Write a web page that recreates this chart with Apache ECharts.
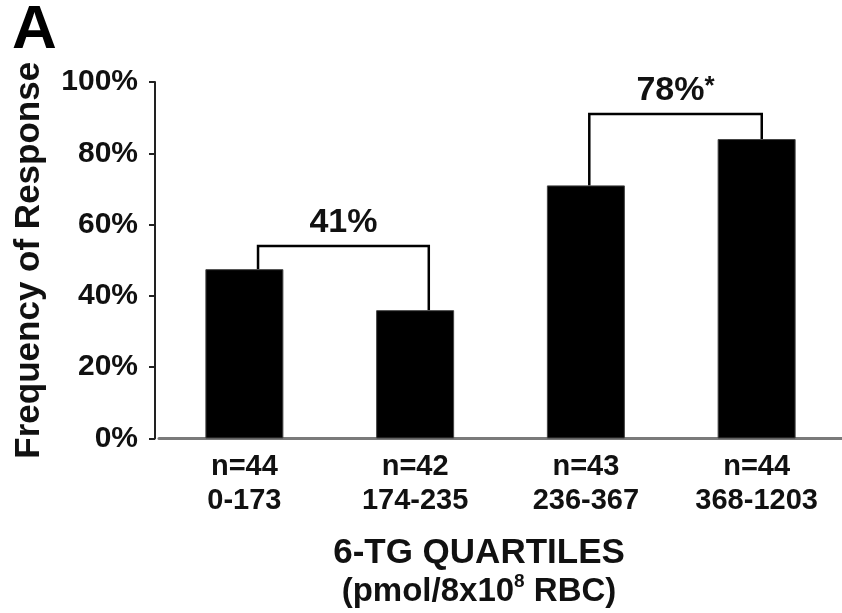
<!DOCTYPE html>
<html>
<head>
<meta charset="utf-8">
<title>6-TG quartiles and frequency of response</title>
<script src="https://cdn.jsdelivr.net/npm/echarts@6/dist/echarts.min.js"></script>
<style>
  html, body { margin: 0; padding: 0; background: #ffffff; }
  #chart { width: 842px; height: 613px; }
</style>
</head>
<body>
<div id="chart"></div>
<script>
// Quartile groups of 6-TG concentration
var sampleSizes = ['n=44', 'n=42', 'n=43', 'n=44'];
var quartileRanges = ['0-173', '174-235', '236-367', '368-1203'];

// Frequency of response (%) per quartile
var responseRates = [47.5, 36, 71, 84];

// Y axis ticks
var yTicks = [0, 20, 40, 60, 80, 100];

// Brackets joining pairs of quartiles:
// [left position, right position, left foot (%), right foot (%), top (%)]
var bracketSpans = [
  [0.08, 1.08, 47.5, 36, 54],
  [2.02, 3.03, 71, 84, 91]
];
var bracketLabels = ['41%', '78%{star|*}'];

var FONT = '"Liberation Sans", Arial, Helvetica, sans-serif';

var categories = sampleSizes.map(function (n, i) {
  return n + '\n' + quartileRanges[i];
});

var chart = echarts.init(document.getElementById('chart'), null, { renderer: 'canvas' });

chart.setOption({
  animation: false,
  backgroundColor: '#ffffff',
  textStyle: { fontFamily: FONT, color: '#111' },
  title: {
    text: 'A',
    left: 12,
    top: 0,
    padding: 0,
    textStyle: { fontFamily: FONT, fontSize: 62, fontWeight: 900, color: '#000' }
  },
  grid: { left: 159, right: -4, top: 82, bottom: 174, containLabel: false },
  xAxis: [{
    type: 'category',
    data: categories,
    axisLine: { show: true, onZero: false, lineStyle: { color: '#7a7a7a', width: 3 } },
    axisTick: { show: false },
    axisLabel: {
      margin: 11,
      fontFamily: FONT,
      fontSize: 29,
      fontWeight: 'bold',
      lineHeight: 34,
      color: '#111'
    },
    name: '{t|6-TG QUARTILES}\n{u|(pmol/8x10}{s|8}{u| RBC)}',
    nameLocation: 'middle',
    nameGap: 96,
    nameTextStyle: {
      padding: [0, 43, 0, 0],
      fontFamily: FONT,
      color: '#111',
      rich: {
        t: { fontFamily: FONT, fontSize: 35, fontWeight: 'bold', lineHeight: 38, color: '#111' },
        u: { fontFamily: FONT, fontSize: 33, fontWeight: 'bold', lineHeight: 38, color: '#111' },
        s: { fontFamily: FONT, fontSize: 19, fontWeight: 'bold', lineHeight: 22, verticalAlign: 'top', color: '#111' }
      }
    }
  }, {
    type: 'value',
    min: -0.5,
    max: 3.5,
    show: false
  }],
  yAxis: {
    type: 'value',
    min: yTicks[0],
    max: yTicks[yTicks.length - 1],
    interval: yTicks[1] - yTicks[0],
    offset: 4,
    splitLine: { show: false },
    axisLine: { show: true, onZero: false, lineStyle: { color: '#222', width: 2 } },
    axisTick: { show: true, inside: false, length: 6, lineStyle: { color: '#222', width: 2 } },
    axisLabel: {
      formatter: '{value}%',
      margin: 17,
      padding: [0, 0, 8, 0],
      fontFamily: FONT,
      fontSize: 30,
      fontWeight: 'bold',
      color: '#111'
    },
    name: 'Frequency of Response',
    nameLocation: 'middle',
    nameRotate: 90,
    nameGap: 108,
    nameTextStyle: { fontFamily: FONT, fontSize: 35, fontWeight: 'bold', color: '#111' }
  },
  series: [{
    type: 'bar',
    xAxisIndex: 0,
    data: responseRates,
    barWidth: 78,
    itemStyle: { color: '#000', borderColor: '#444', borderWidth: 1 },
    silent: true
  }, {
    type: 'custom',
    xAxisIndex: 1,
    data: bracketSpans,
    silent: true,
    renderItem: function (params, api) {
      var leftFoot = api.coord([api.value(0), api.value(2)]);
      var leftTop = api.coord([api.value(0), api.value(4)]);
      var rightTop = api.coord([api.value(1), api.value(4)]);
      var rightFoot = api.coord([api.value(1), api.value(3)]);
      return {
        type: 'group',
        children: [{
          type: 'polyline',
          shape: { points: [leftFoot, leftTop, rightTop, rightFoot] },
          style: { stroke: '#000', lineWidth: 2.5, fill: null }
        }, {
          type: 'text',
          style: {
            text: bracketLabels[params.dataIndex],
            x: (leftTop[0] + rightTop[0]) / 2,
            y: leftTop[1] - 23,
            align: 'center',
            verticalAlign: 'middle',
            fontFamily: FONT,
            fontSize: 34,
            fontWeight: 'bold',
            fill: '#111',
            rich: {
              star: { fontFamily: FONT, fontSize: 26, fontWeight: 'bold', verticalAlign: 'top', lineHeight: 20, fill: '#111', color: '#111' }
            }
          }
        }]
      };
    }
  }]
});
</script>
</body>
</html>
